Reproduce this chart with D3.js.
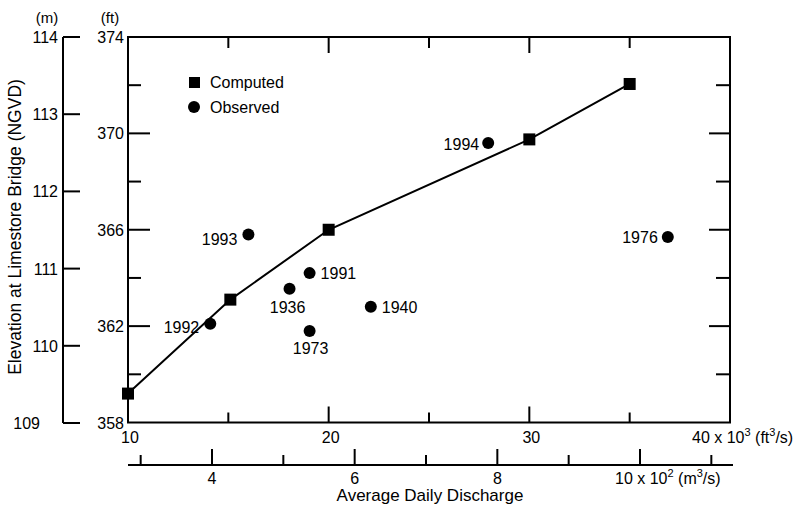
<!DOCTYPE html>
<html><head><meta charset="utf-8">
<script src="https://cdn.jsdelivr.net/npm/d3@7"></script>
<style>body{margin:0;background:#fff}svg{display:block}text{font-family:"Liberation Sans",Arial,Helvetica,sans-serif;fill:#000}</style>
</head><body>
<svg id="c" width="803" height="505"></svg>
<script>
// Data: discharge in 10^3 ft3/s, elevation in ft
const computedQ = [10, 15.1, 20, 30, 35];
const computedH = [359.2, 363.1, 366.0, 369.75, 372.05];
const obsYear = ["1992", "1993", "1991", "1936", "1973", "1940", "1994", "1976"];
const obsQ = [14.1, 16.0, 19.05, 18.05, 19.05, 22.1, 27.95, 36.9];
const obsH = [362.1, 365.8, 364.2, 363.55, 361.8, 362.8, 369.6, 365.7];
const ftTicks = [10, 20, 30];
const ftMinor = [15, 25, 35];
const elevFtMajor = [358, 362, 366, 370, 374];
const elevFtMinor = [360, 364, 368, 372];
const elevMTicks = [109, 110, 111, 112, 113, 114];
const m3Major = [4, 6, 8, 10];
const m3Minor = [3, 5, 7, 9, 11];

const svg = d3.select("#c");
const L = 128, R = 730, T = 37, B = 422.5;
const x = d3.scaleLinear().domain([10, 40]).range([L, R]);
const y = d3.scaleLinear().domain([358, 374]).range([B, T]);
const ym = d3.scaleLinear().domain([109, 114]).range([423, 37]);
const xm = d3.scaleLinear().domain([4, 10]).range([212, 640]);
const FS = 16;

// frame
svg.append("rect").attr("x", L).attr("y", T).attr("width", R - L).attr("height", B - T)
  .attr("fill", "none").attr("stroke", "#000").attr("stroke-width", 2);

// left/right ft ticks
const line = (x1, y1, x2, y2, w) => svg.append("line").attr("x1", x1).attr("y1", y1).attr("x2", x2).attr("y2", y2)
  .attr("stroke", "#000").attr("stroke-width", w || 2);
elevFtMajor.slice(1, -1).forEach(v => { line(L, y(v), L + 22, y(v)); line(R, y(v), R - 21, y(v)); });
elevFtMinor.forEach(v => { line(L, y(v), L + 13, y(v)); line(R, y(v), R - 14, y(v)); });
elevFtMajor.forEach(v => {
  svg.append("text").attr("x", 124).attr("y", y(v) + 6 + (v === 374 ? 0 : 0)).attr("text-anchor", "end")
    .attr("font-size", FS).text(v);
});
svg.append("text").attr("x", 110).attr("y", 23).attr("text-anchor", "middle").attr("font-size", 15).text("(ft)");

// top/bottom ft ticks
ftTicks.slice(1).forEach(v => { line(x(v), B, x(v), B - 16); line(x(v), T, x(v), T + 16); });
ftMinor.forEach(v => { line(x(v), B, x(v), B - 10); line(x(v), T, x(v), T + 11); });
ftTicks.forEach(v => {
  svg.append("text").attr("x", x(v) + 2).attr("y", 443).attr("text-anchor", "middle").attr("font-size", FS).text(v);
});
const t40 = svg.append("text").attr("x", 692).attr("y", 443).attr("font-size", FS);
t40.append("tspan").text("40 x 10");
t40.append("tspan").attr("dy", -7).attr("font-size", 11).text("3");
t40.append("tspan").attr("dy", 7).text(" (ft");
t40.append("tspan").attr("dy", -7).attr("font-size", 11).text("3");
t40.append("tspan").attr("dy", 7).text("/s)");

// m axis
line(63, ym(114), 63, ym(109));
elevMTicks.forEach(v => {
  line(63, ym(v), 80, ym(v));
  svg.append("text").attr("x", v === 109 ? 40 : 58).attr("y", ym(v) + 6).attr("text-anchor", "end")
    .attr("font-size", FS).text(v);
});
svg.append("text").attr("x", 47).attr("y", 23).attr("text-anchor", "middle").attr("font-size", 15).text("(m)");

// m3/s axis
const YB = 465;
line(L, YB, 733, YB);
m3Major.forEach(v => line(xm(v), YB, xm(v), YB - 16));
m3Minor.forEach(v => line(xm(v), YB, xm(v), YB - 10));
m3Major.slice(0, -1).forEach(v => {
  svg.append("text").attr("x", xm(v)).attr("y", 484).attr("text-anchor", "middle").attr("font-size", FS).text(v);
});
const t10 = svg.append("text").attr("x", xm(10) - 25).attr("y", 484).attr("font-size", FS);
t10.append("tspan").text("10 x 10");
t10.append("tspan").attr("dy", -7).attr("font-size", 11).text("2");
t10.append("tspan").attr("dy", 7).text(" (m");
t10.append("tspan").attr("dy", -7).attr("font-size", 11).text("3");
t10.append("tspan").attr("dy", 7).text("/s)");

// titles
svg.append("text").attr("x", 430).attr("y", 501).attr("text-anchor", "middle").attr("font-size", 17)
  .text("Average Daily Discharge");
svg.append("text").attr("transform", "translate(21,227) rotate(-90)").attr("text-anchor", "middle")
  .attr("font-size", 17.5).text("Elevation at Limestore Bridge (NGVD)");

// computed line + squares
const comp = computedQ.map((q, i) => ({ q, h: computedH[i] }));
svg.append("path").datum(comp).attr("fill", "none").attr("stroke", "#000").attr("stroke-width", 2)
  .attr("d", d3.line().x(d => x(d.q)).y(d => y(d.h)));
const S = 12;
svg.selectAll("rect.sq").data(comp).enter().append("rect").attr("class", "sq")
  .attr("x", d => x(d.q) - S / 2).attr("y", d => y(d.h) - S / 2).attr("width", S).attr("height", S).attr("fill", "#000");

// observed
const labelPos = {
  "1992": { dx: -11, dy: 9, a: "end" },
  "1993": { dx: -11, dy: 10, a: "end" },
  "1991": { dx: 11, dy: 6, a: "start" },
  "1936": { dx: -2, dy: 24, a: "middle" },
  "1973": { dx: 1, dy: 23, a: "middle" },
  "1940": { dx: 11, dy: 6, a: "start" },
  "1994": { dx: -9, dy: 7, a: "end" },
  "1976": { dx: -10, dy: 6, a: "end" }
};
const obs = obsQ.map((q, i) => ({ q, h: obsH[i], yr: obsYear[i] }));
svg.selectAll("circle.ob").data(obs).enter().append("circle").attr("class", "ob")
  .attr("cx", d => x(d.q)).attr("cy", d => y(d.h)).attr("r", 6).attr("fill", "#000");
svg.selectAll("text.ol").data(obs).enter().append("text").attr("class", "ol")
  .attr("x", d => x(d.q) + labelPos[d.yr].dx).attr("y", d => y(d.h) + labelPos[d.yr].dy)
  .attr("text-anchor", d => labelPos[d.yr].a).attr("font-size", FS).text(d => d.yr);

// legend
svg.append("rect").attr("x", 189).attr("y", 77).attr("width", 11).attr("height", 11).attr("fill", "#000");
svg.append("circle").attr("cx", 194).attr("cy", 107).attr("r", 6).attr("fill", "#000");
svg.append("text").attr("x", 210).attr("y", 88).attr("font-size", FS).text("Computed");
svg.append("text").attr("x", 210).attr("y", 113).attr("font-size", FS).text("Observed");
</script>
</body></html>
